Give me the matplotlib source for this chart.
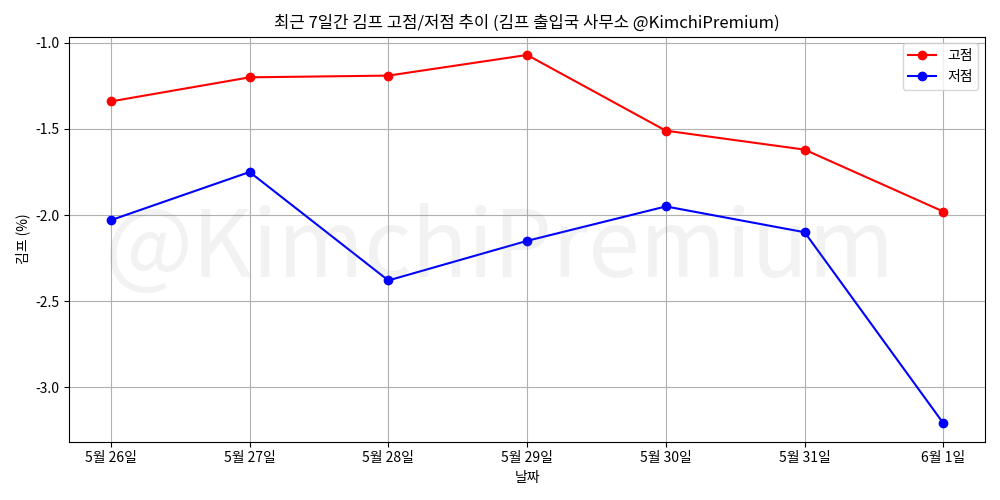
import matplotlib
matplotlib.use("Agg")
import matplotlib.pyplot as plt

plt.rcParams['font.family'] = ['Noto Sans CJK KR', 'DejaVu Sans']
plt.rcParams['axes.unicode_minus'] = False

dates = ["5월 26일", "5월 27일", "5월 28일", "5월 29일", "5월 30일", "5월 31일", "6월 1일"]
high = [-1.34, -1.20, -1.19, -1.07, -1.51, -1.62, -1.98]
low = [-2.03, -1.75, -2.38, -2.15, -1.95, -2.10, -3.21]

fig, ax = plt.subplots(figsize=(10, 5), dpi=100)
ax.plot(dates, high, marker='o', color='red', label='고점')
ax.plot(dates, low, marker='o', color='blue', label='저점')

# watermark in the middle of the figure, kept out of the layout
wm = fig.text(0.5, 0.5, "@KimchiPremium", fontsize=67,
              color='gray', alpha=0.1, ha='center', va='center')
wm.set_in_layout(False)

ax.set_title("최근 7일간 김프 고점/저점 추이 (김프 출입국 사무소 @KimchiPremium)")
ax.set_xlabel("날짜")
ax.set_ylabel("김프 (%)")
ax.grid(True)
ax.legend(loc='upper right')

plt.tight_layout()
plt.savefig("out.png")
